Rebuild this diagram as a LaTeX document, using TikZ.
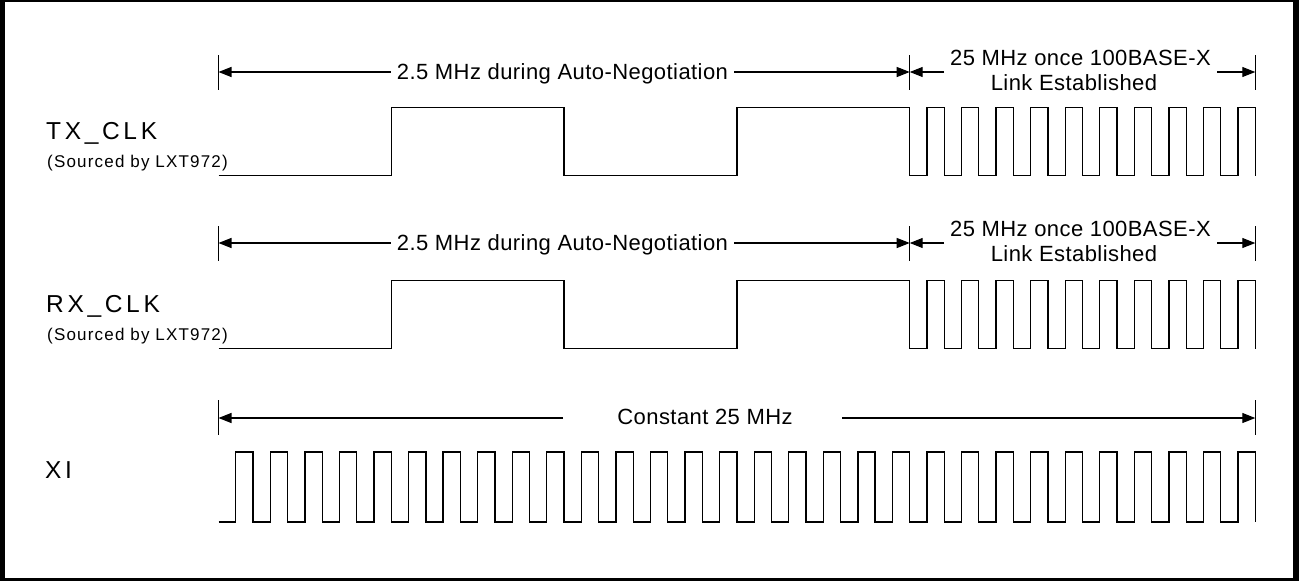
\documentclass[tikz,border=0pt]{standalone}
\usepackage{fontspec}
\setmainfont{Liberation Sans}
\newfontfamily\sigfont[LetterSpace=15]{Liberation Sans}
\newfontfamily\srcfont[LetterSpace=7]{Liberation Sans}
\newfontfamily\lblfont[LetterSpace=2]{Liberation Sans}
\usetikzlibrary{arrows.meta}
\begin{document}
\begin{tikzpicture}[x=1pt,y=-1pt,
  wave/.style={line width=1.3pt, line join=miter},
  tickline/.style={line width=1.2pt},
  dim/.style={line width=1.2pt, -{Triangle[length=13pt,width=10pt]}},
  lbl/.style={font=\lblfont\fontsize{22}{26}\selectfont, inner sep=0pt, anchor=base},
  sig/.style={font=\sigfont\fontsize{24.5}{28}\selectfont, inner sep=0pt, anchor=base west},
  src/.style={font=\srcfont\fontsize{17}{20}\selectfont, inner sep=0pt, anchor=base west}]
\useasboundingbox (0,0) rectangle (1299,581);
% frame
\fill (0,0) rectangle (5,581);
\fill (1293,0) rectangle (1299,581);
\fill (0,0) rectangle (1299,2);
\fill (0,578) rectangle (1299,581);
\def\h{17.28}
% TX and RX rows
\foreach \n/\lab/\da/\dw in {tx/TX\_CLK/0/0, rx/RX\_CLK/171/173}{
  \node[sig] (\n-name) at (46,139+\dw) {\lab};
  \node[src] (\n-src) at (47,167+\dw) {(Sourced by LXT972)};
  \coordinate (\n-L) at (218.5,72+\da);
  \coordinate (\n-M) at (909.7,72+\da);
  \coordinate (\n-R) at (1255.3,72+\da);
  \draw[tickline] ([yshift=17pt]\n-L) -- ([yshift=-18pt]\n-L);
  \draw[tickline] ([yshift=17pt]\n-M) -- ([yshift=-18pt]\n-M);
  \draw[tickline] ([yshift=17pt]\n-R) -- ([yshift=-18pt]\n-R);
  \node[lbl] (\n-slow) at (562.5,79.3+\da) {2.5 MHz during Auto-Negotiation};
  \draw[dim] ([xshift=-6pt]\n-slow.west |- \n-L) -- (\n-L);
  \draw[dim] ([xshift=6pt]\n-slow.east |- \n-M) -- (\n-M);
  \node[lbl] (\n-fast) at (1080.5,65+\da) {25 MHz once 100BASE-X};
  \node[lbl] (\n-link) at (1074,90+\da) {Link Established};
  \draw[dim] ([xshift=-6pt]\n-fast.west |- \n-M) -- (\n-M);
  \draw[dim] ([xshift=6pt]\n-fast.east |- \n-R) -- (\n-R);
  \draw[wave] (218.5,175.5+\dw) -- ++(10*\h,0) -- ++(0,-68) -- ++(10*\h,0) -- ++(0,68)
     -- ++(10*\h,0) -- ++(0,-68) -- ++(10*\h,0) -- ++(0,68)
     \foreach \k in {1,...,10}{ -- ++(\h,0) -- ++(0,-68) -- ++(\h,0) -- ++(0,68)};
}
% XI row
\node[sig] (xi-name) at (45,478) {XI};
\coordinate (xi-L) at (218.5,418);
\coordinate (xi-R) at (1255.3,418);
\coordinate (xi-gl) at (563,418);
\coordinate (xi-gr) at (842,418);
\draw[tickline] ([yshift=18pt]xi-L) -- ([yshift=-17pt]xi-L);
\draw[tickline] ([yshift=18pt]xi-R) -- ([yshift=-17pt]xi-R);
\node[lbl] (xi-lbl) at (705,424) {Constant 25 MHz};
\draw[dim] (xi-gl) -- (xi-L);
\draw[dim] (xi-gr) -- (xi-R);
\draw[wave] (218.5,522) \foreach \k in {1,...,30}{ -- ++(\h,0) -- ++(0,-70) -- ++(\h,0) -- ++(0,70)};
\end{tikzpicture}
\end{document}
